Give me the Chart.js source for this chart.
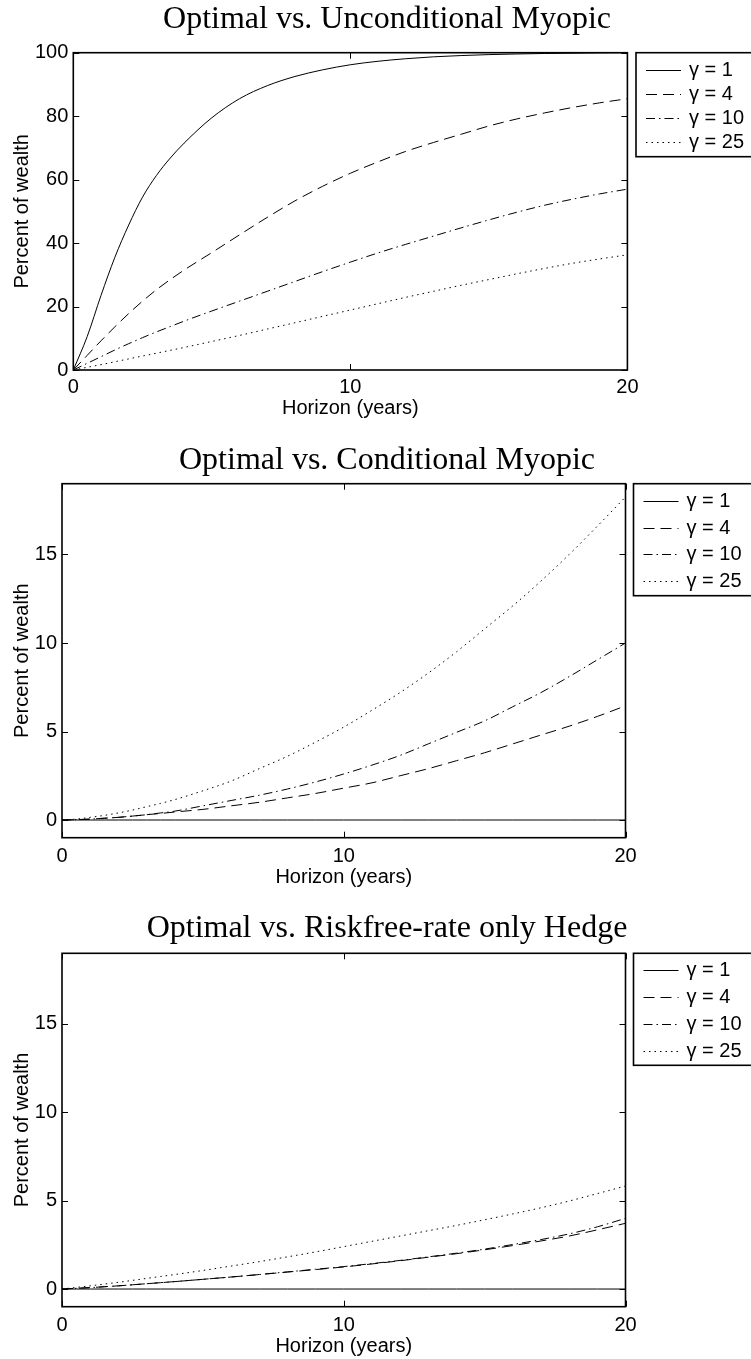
<!DOCTYPE html>
<html>
<head>
<meta charset="utf-8">
<script src="https://cdn.jsdelivr.net/npm/chart.js@4.4.1/dist/chart.umd.min.js"></script>
<style>
html, body { margin: 0; padding: 0; background: #fff; overflow: hidden; width: 751px; height: 1359px; }
.panel { position: absolute; left: 0; }
canvas { display: block; }
</style>
</head>
<body>
<div class="panel" style="top:0px"><canvas id="c1" width="774" height="430" style="width:774px;height:430px"></canvas></div>
<div class="panel" style="top:440px"><canvas id="c2" width="774" height="458" style="width:774px;height:458px"></canvas></div>
<div class="panel" style="top:905px"><canvas id="c3" width="774" height="454" style="width:774px;height:454px"></canvas></div>
<script>
// ---------------- data ----------------
const HORIZON = [0, 0.5, 1, 1.5, 2, 2.5, 3, 3.5, 4, 5, 6, 7, 8, 9, 10, 11, 12, 13, 14, 15, 16, 17, 18, 19, 20];
const SERIES_LABELS = ['γ = 1', 'γ = 4', 'γ = 10', 'γ = 25'];
const TITLES = ['Optimal vs. Unconditional Myopic', 'Optimal vs. Conditional Myopic', 'Optimal vs. Riskfree-rate only Hedge'];
const X_TITLE = 'Horizon (years)';
const Y_TITLE = 'Percent of wealth';
const X_TICKS = [0, 10, 20];
const Y_TICKS_UNCOND = [0, 20, 40, 60, 80, 100];
const Y_TICKS_COND = [0, 5, 10, 15];

// Optimal vs. Unconditional Myopic
const UNCOND_G1  = [0, 10.5, 23.5, 35.5, 45.7, 54.5, 61.3, 66.8, 71.5, 79.5, 85.5, 89.6, 92.5, 94.6, 96.2, 97.3, 98.1, 98.7, 99.1, 99.4, 99.6, 99.75, 99.85, 99.95, 100];
const UNCOND_G4  = [0, 4.6, 9.2, 13.6, 17.8, 21.7, 25.3, 28.5, 31.5, 37, 42.6, 48.1, 53.3, 57.9, 62, 65.6, 68.9, 71.7, 74.3, 76.9, 79.1, 81, 82.7, 84.2, 85.5];
const UNCOND_G10 = [0, 2.1, 4.2, 6.3, 8.3, 10.2, 12, 13.7, 15.4, 18.6, 21.7, 24.8, 27.9, 31, 34, 36.9, 39.6, 42.2, 44.8, 47.3, 49.7, 51.9, 53.8, 55.5, 57];
const UNCOND_G25 = [0, 0.85, 1.7, 2.6, 3.5, 4.4, 5.3, 6.2, 7.1, 9, 10.9, 12.9, 14.9, 16.9, 18.9, 20.9, 22.9, 24.8, 26.7, 28.5, 30.3, 32, 33.6, 35, 36.3];

// Optimal vs. Conditional Myopic
const COND_G1  = [0, 0, 0, 0, 0, 0, 0, 0, 0, 0, 0, 0, 0, 0, 0, 0, 0, 0, 0, 0, 0, 0, 0, 0, 0];
const COND_G4  = [0, 0.02, 0.05, 0.1, 0.15, 0.22, 0.3, 0.37, 0.45, 0.6, 0.8, 1.0, 1.25, 1.5, 1.8, 2.1, 2.5, 2.9, 3.35, 3.8, 4.3, 4.8, 5.3, 5.85, 6.45];
const COND_G10 = [0, 0.02, 0.05, 0.1, 0.15, 0.22, 0.3, 0.4, 0.5, 0.8, 1.1, 1.4, 1.75, 2.15, 2.6, 3.1, 3.65, 4.3, 4.95, 5.6, 6.4, 7.2, 8.1, 9.05, 10];
const COND_G25 = [0, 0.05, 0.15, 0.26, 0.4, 0.56, 0.75, 0.94, 1.15, 1.65, 2.2, 2.9, 3.6, 4.4, 5.25, 6.2, 7.2, 8.3, 9.5, 10.8, 12.1, 13.5, 15, 16.6, 18.25];

// Optimal vs. Riskfree-rate only Hedge
const RF_G1  = [0, 0, 0, 0, 0, 0, 0, 0, 0, 0, 0, 0, 0, 0, 0, 0, 0, 0, 0, 0, 0, 0, 0, 0, 0];
const RF_G4  = [0, 0.04, 0.08, 0.13, 0.18, 0.24, 0.3, 0.36, 0.42, 0.55, 0.68, 0.82, 0.96, 1.1, 1.25, 1.42, 1.6, 1.8, 2.0, 2.22, 2.46, 2.72, 3.0, 3.35, 3.72];
const RF_G10 = [0, 0.04, 0.08, 0.13, 0.18, 0.24, 0.3, 0.36, 0.42, 0.55, 0.68, 0.82, 0.97, 1.12, 1.27, 1.44, 1.62, 1.82, 2.03, 2.26, 2.52, 2.8, 3.12, 3.52, 4.0];
const RF_G25 = [0, 0.09, 0.18, 0.28, 0.38, 0.49, 0.6, 0.71, 0.82, 1.05, 1.3, 1.55, 1.82, 2.1, 2.4, 2.7, 3.0, 3.3, 3.6, 3.92, 4.25, 4.6, 4.98, 5.4, 5.83];

// ---------------- styles ----------------
const LINE_DASHES = [[], [11, 6], [9, 4, 1.5, 4], [1.5, 4]];
const SANS = 'Liberation Sans';
const SERIF = 'Liberation Serif';
const TICK_LEN = 6;

Chart.defaults.font.family = SANS;
Chart.defaults.font.size = 20;
Chart.defaults.color = '#000';

const framePlugin = {
  id: 'frame',
  afterDatasetsDraw(chart) {
    const { ctx, chartArea: a, scales: { x, y } } = chart;
    ctx.save();
    ctx.strokeStyle = '#000';
    ctx.lineWidth = 1;
    ctx.setLineDash([]);
    ctx.beginPath();
    x.ticks.forEach(t => {
      const px = Math.round(x.getPixelForValue(t.value)) + 0.5;
      ctx.moveTo(px, a.bottom); ctx.lineTo(px, a.bottom - TICK_LEN);
      ctx.moveTo(px, a.top); ctx.lineTo(px, a.top + TICK_LEN);
    });
    y.ticks.forEach(t => {
      const py = Math.round(y.getPixelForValue(t.value)) + 0.5;
      ctx.moveTo(a.left, py); ctx.lineTo(a.left + TICK_LEN, py);
      ctx.moveTo(a.right, py); ctx.lineTo(a.right - TICK_LEN, py);
    });
    ctx.stroke();
    ctx.lineWidth = 1.6;
    ctx.strokeRect(a.left, a.top, a.right - a.left, a.bottom - a.top);
    ctx.restore();
  }
};

const boxLegendPlugin = {
  id: 'boxLegend',
  afterDraw(chart, args, opts) {
    const { ctx, chartArea: a } = chart;
    const left = a.right + opts.gap;
    const top = a.top;
    const h = opts.height;
    const w = chart.width - left + 20;
    ctx.save();
    ctx.fillStyle = '#fff';
    ctx.fillRect(left, top, w, h);
    ctx.setLineDash([]);
    ctx.lineWidth = 1.6;
    ctx.strokeStyle = '#000';
    ctx.strokeRect(left, top, w, h);
    const n = chart.data.datasets.length;
    const mTop = 17, mBottom = 14.5;
    const step = (h - mTop - mBottom) / (n - 1);
    chart.data.datasets.forEach((ds, i) => {
      const yy = Math.round(top + mTop + i * step) + 0.5;
      ctx.setLineDash(ds.borderDash || []);
      ctx.lineWidth = ds.borderWidth;
      ctx.strokeStyle = ds.borderColor;
      ctx.beginPath();
      ctx.moveTo(left + 10, yy);
      ctx.lineTo(left + 45, yy);
      ctx.stroke();
      ctx.setLineDash([]);
      ctx.fillStyle = '#000';
      ctx.font = '20px "' + SANS + '"';
      ctx.textBaseline = 'middle';
      ctx.textAlign = 'left';
      ctx.fillText(ds.label, left + 53, yy);
    });
    ctx.restore();
  }
};

function makeChart(id, cfg) {
  const datasets = cfg.series.map((vals, i) => ({
    label: SERIES_LABELS[i],
    data: HORIZON.map((h, k) => ({ x: h, y: vals[k] })),
    borderColor: '#000',
    borderWidth: 1,
    borderDash: LINE_DASHES[i],
    pointRadius: 0,
    fill: false,
    cubicInterpolationMode: 'monotone'
  }));
  return new Chart(document.getElementById(id), {
    type: 'line',
    data: { datasets },
    options: {
      responsive: false,
      animation: false,
      devicePixelRatio: 1,
      layout: { padding: 0 },
      plugins: {
        legend: { display: false },
        tooltip: { enabled: false },
        title: {
          display: true,
          text: cfg.title,
          color: '#000',
          font: { family: SERIF, size: 32, weight: 'normal', lineHeight: 1.2 },
          padding: { top: cfg.titleTop, bottom: cfg.titleBottom }
        },
        boxLegend: { gap: cfg.legendGap, height: cfg.legendHeight }
      },
      scales: {
        x: {
          type: 'linear',
          min: 0, max: 20,
          grid: { display: false, drawTicks: false },
          border: { display: false },
          afterBuildTicks: s => { s.ticks = X_TICKS.map(v => ({ value: v })); },
          afterFit: s => { s.height = cfg.xHeight; },
          ticks: { padding: cfg.xTickPad, maxRotation: 0, autoSkip: false, font: { size: 20, lineHeight: 1.2 } },
          title: { display: true, text: X_TITLE, font: { size: 20, lineHeight: 1.2 }, padding: { top: 0, bottom: cfg.xTitleBottom } }
        },
        y: {
          type: 'linear',
          position: 'left',
          min: cfg.yMin, max: cfg.yMax,
          grid: { display: false, drawTicks: false },
          border: { display: false },
          afterBuildTicks: s => { s.ticks = cfg.yTicks.map(v => ({ value: v })); },
          afterFit: s => { s.width = cfg.yWidth; },
          ticks: { padding: 5, autoSkip: false, font: { size: 20, lineHeight: 1.2 } },
          title: { display: true, text: Y_TITLE, font: { size: 20, lineHeight: 1.2 }, padding: { top: 10, bottom: 0 } }
        },
        yRight: {
          type: 'linear',
          position: 'right',
          display: true,
          min: cfg.yMin, max: cfg.yMax,
          grid: { display: false, drawTicks: false },
          border: { display: false },
          ticks: { display: false },
          afterFit: s => { s.width = cfg.padRight; }
        }
      }
    },
    plugins: [framePlugin, boxLegendPlugin]
  });
}

makeChart('c1', {
  title: TITLES[0], series: [UNCOND_G1, UNCOND_G4, UNCOND_G10, UNCOND_G25],
  yMin: 0, yMax: 100, yTicks: Y_TICKS_UNCOND,
  yWidth: 73.3, padRight: 146.6, titleTop: 0, titleBottom: 14.3,
  xHeight: 60, xTickPad: 5, xTitleBottom: 10,
  legendGap: 8.6, legendHeight: 104
});
makeChart('c2', {
  title: TITLES[1], series: [COND_G1, COND_G4, COND_G10, COND_G25],
  yMin: -1, yMax: 19, yTicks: Y_TICKS_COND,
  yWidth: 62, padRight: 148.5, titleTop: 1, titleBottom: 4.3,
  xHeight: 60.3, xTickPad: 6.3, xTitleBottom: 9,
  legendGap: 8, legendHeight: 112
});
makeChart('c3', {
  title: TITLES[2], series: [RF_G1, RF_G4, RF_G10, RF_G25],
  yMin: -1, yMax: 19, yTicks: Y_TICKS_COND,
  yWidth: 62, padRight: 148.5, titleTop: 4.3, titleBottom: 5.6,
  xHeight: 52.3, xTickPad: 6.3, xTitleBottom: 1,
  legendGap: 8, legendHeight: 112
});
</script>
</body>
</html>
